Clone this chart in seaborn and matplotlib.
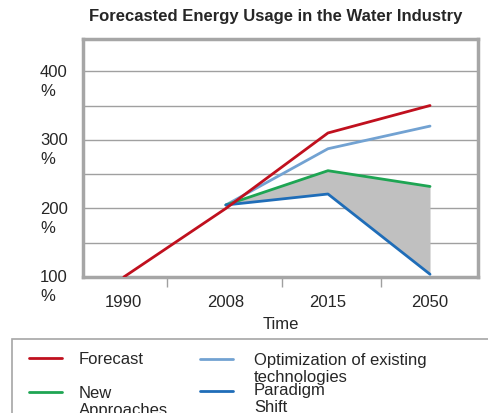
import matplotlib
matplotlib.use("Agg")
import matplotlib.pyplot as plt
import matplotlib.transforms as mtransforms
from matplotlib.lines import Line2D
from matplotlib.patches import Rectangle
import seaborn as sns
import pandas as pd

# Data
years = ["1990", "2008", "2015", "2050"]
forecast = [100, 200, 310, 350]
optimization = [None, 205, 287, 320]
new_approaches = [None, 205, 255, 232]
paradigm_shift = [None, 205, 221, 104]

series_names = ["Forecast", "Optimization of existing\ntechnologies",
                "New\nApproaches", "Paradigm\nShift"]
series_values = [forecast, optimization, new_approaches, paradigm_shift]
colors = ["#c0101e", "#72a2d2", "#1ea553", "#1f6db8"]

y_labels = [100, 200, 300, 400]
grid_levels = [150, 200, 250, 300, 350, 400]

rows = []
for name, vals in zip(series_names, series_values):
    for i, v in enumerate(vals):
        if v is not None:
            rows.append({"pos": i, "value": v, "series": name})
df = pd.DataFrame(rows)

sns.set_theme(style="white")
plt.rcParams["font.family"] = ["Liberation Sans", "DejaVu Sans"]

fig = plt.figure(figsize=(4.89, 4.14), dpi=100)
ax = fig.add_axes([83 / 489, 1 - 278 / 414, 395 / 489, 238 / 414])

# shaded range between the new-approaches and paradigm-shift scenarios
ax.fill_between([1, 2, 3], new_approaches[1:], paradigm_shift[1:],
                color="#c0c0c0", linewidth=0, zorder=1)

palette = dict(zip(series_names, colors))
sns.lineplot(data=df, x="pos", y="value", hue="series", palette=palette,
             hue_order=series_names, linewidth=2, legend=False, ax=ax,
             zorder=3)
# draw the forecast line on top
ax.lines[0].set_zorder(4)

ax.set_xlim(-0.40, 3.47)
ax.set_ylim(100, 447)

ax.set_yticks(grid_levels)
ax.set_yticklabels([])
ax.tick_params(axis="y", length=0)
ax.grid(axis="y", color="#a0a0a0", linewidth=1)
ax.grid(axis="x", visible=False)

ax.set_xticks(range(len(years)))
ax.set_xticklabels(years, fontsize=12)
ax.tick_params(axis="x", which="major", length=0, pad=12)
ax.set_xticks([0.42, 1.55, 2.52], minor=True)
ax.tick_params(axis="x", which="minor", length=7, width=1, color="#a0a0a0",
               direction="out", bottom=True)

for side in ax.spines.values():
    side.set_color("#a6a6a6")
    side.set_linewidth(2.5)

ax.set_xlabel("Time", fontsize=12, labelpad=5)
ax.set_ylabel("")

trans = mtransforms.blended_transform_factory(fig.transFigure, ax.transData)
pct_shift = mtransforms.ScaledTranslation(0, -19 / 100, fig.dpi_scale_trans)
for v in y_labels:
    ax.text(40 / 489, v, f"{v}", transform=trans, ha="left", va="center",
            fontsize=12, clip_on=False)
    ax.text(40 / 489, v, "%", transform=trans + pct_shift, ha="left",
            va="center", fontsize=12, clip_on=False)

fig.text(276 / 489, 1 - 17 / 414, "Forecasted Energy Usage in the Water Industry",
         ha="center", va="center", fontsize=12, fontweight="bold")

# legend box, running past the figure edges
fig.patches.append(Rectangle((12 / 489, -0.1), 1.0, (1 - 340 / 414) + 0.1,
                             transform=fig.transFigure, fill=False,
                             edgecolor="#a6a6a6", linewidth=1.2))
entries = [
    (29, 359, 79, 352, series_names[0], colors[0]),
    (200, 360, 254, 353, series_names[1], colors[1]),
    (29, 393, 79, 386, series_names[2], colors[2]),
    (200, 392, 254, 383, series_names[3], colors[3]),
]
for lx, ly, tx, ty, label, c in entries:
    fig.lines.append(Line2D([lx / 489, (lx + 33) / 489], [1 - ly / 414, 1 - ly / 414],
                            transform=fig.transFigure, color=c, linewidth=2))
    fig.text(tx / 489, 1 - ty / 414, label, ha="left", va="top",
             fontsize=12, linespacing=1.15)

fig.savefig("out.png", dpi=100)
